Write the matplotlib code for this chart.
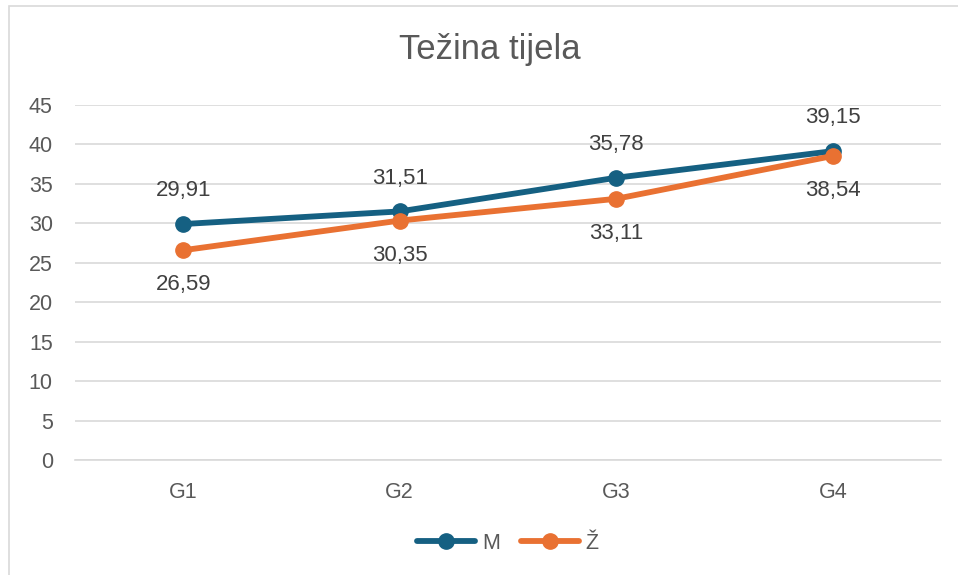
import matplotlib
matplotlib.use("Agg")
import matplotlib.pyplot as plt
from matplotlib.patches import Rectangle

plt.rcParams['font.family'] = ['Liberation Sans', 'DejaVu Sans']

categories = ["G1", "G2", "G3", "G4"]
m_values = [29.91, 31.51, 35.78, 39.15]
z_values = [26.59, 30.35, 33.11, 38.54]
series_names = ["M", "Ž"]

COL_M = "#156082"
COL_Z = "#E97132"
TXT = "#595959"


def fmt(v):
    return f"{v:.2f}".replace(".", ",")


fig = plt.figure(figsize=(9.58, 5.75), dpi=100)
ax = fig.add_axes([75 / 958, 1 - 460 / 575, 866 / 958, 355 / 575])

# chart frame (only left/top visible in the crop)
fig.patches.append(Rectangle((9 / 958, -0.1), 1.2, 1 - 6 / 575 + 0.1,
                             transform=fig.transFigure, fill=False,
                             edgecolor="#d9d9d9", linewidth=1.2))

x = list(range(len(categories)))
ax.plot(x, m_values, color=COL_M, lw=4.2, marker="o", ms=11,
        label=series_names[0], solid_capstyle="round", zorder=3)
ax.plot(x, z_values, color=COL_Z, lw=4.2, marker="o", ms=11,
        label=series_names[1], solid_capstyle="round", zorder=3)

for i, v in enumerate(m_values):
    ax.annotate(fmt(v), (i, v), xytext=(0, 24), textcoords="offset points",
                ha="center", va="center", fontsize=16, color="#404040")
for i, v in enumerate(z_values):
    ax.annotate(fmt(v), (i, v), xytext=(0, -25), textcoords="offset points",
                ha="center", va="center", fontsize=16, color="#404040")

ax.set_xlim(-0.5, 3.5)
ax.set_ylim(0, 45)
ax.set_yticks(range(0, 46, 5))
ax.set_xticks(x)
ax.set_xticklabels(categories)
ax.grid(axis="y", color="#d9d9d9", lw=1.2)
ax.set_axisbelow(True)
for s in ["top", "right", "left"]:
    ax.spines[s].set_visible(False)
ax.spines["bottom"].set_color("#d9d9d9")
ax.spines["bottom"].set_linewidth(1.2)
ax.tick_params(length=0, labelsize=15.5, labelcolor=TXT)
ax.tick_params(axis="x", pad=16)
ax.tick_params(axis="y", pad=16)

fig.text(490 / 958, 1 - 50 / 575, "Težina tijela", ha="center", va="center",
         fontsize=25, color=TXT)

leg = ax.legend(loc="center", bbox_to_anchor=(0.5 - 0.0, -0.235), ncol=2,
                frameon=False, fontsize=15.5, handlelength=2.7,
                columnspacing=1.0, handletextpad=0.3)
for t in leg.get_texts():
    t.set_color(TXT)

fig.savefig("out.png", dpi=100)
